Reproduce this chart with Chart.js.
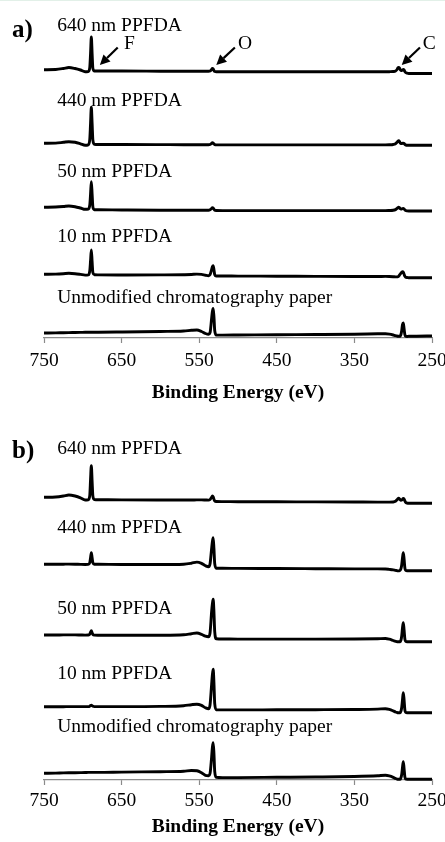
<!DOCTYPE html>
<html>
<head>
<meta charset="utf-8">
<script src="https://cdn.jsdelivr.net/npm/chart.js@4.4.1/dist/chart.umd.min.js"></script>
<style>
  html, body { margin: 0; padding: 0; background: #fff; }
  #wrap { position: relative; width: 445px; height: 842px; }
  #topline { position: absolute; left: 0; top: 0; width: 445px; height: 1px; background: #e2f0e8; }
  #chartA { position: absolute; left: 0; top: 0; }
  #chartB { position: absolute; left: 0; top: 410px; }
</style>
</head>
<body>
<div id="wrap">
  <canvas id="chartA" width="445" height="410"></canvas>
  <canvas id="chartB" width="445" height="432"></canvas>
  <div id="topline"></div>
</div>
<script>
// Binding energies (eV), shared by every spectrum
const energies = [750, 735, 725, 718, 710, 703, 697, 693, 691, 690, 689, 688, 687, 685, 680, 650, 600, 570, 560, 553, 547, 542, 538, 536, 534, 533, 532, 531, 530, 528, 520, 500, 450, 400, 350, 320, 310, 305, 300, 297, 295, 294, 293, 292, 291, 290, 289, 288, 287, 286, 285, 284, 282, 280, 270, 250];

const sampleNames = ['640 nm PPFDA', '440 nm PPFDA', '50 nm PPFDA', '10 nm PPFDA', 'Unmodified chromatography paper'];
const elementNames = ['F', 'O', 'C'];
const xTicks = [750, 650, 550, 450, 350, 250];

// panel a) intensities (a.u.) and vertical stacking offsets
const a640 = [3.8, 4, 5, 6, 5, 3.5, 1.8, 2, 6, 20, 36.5, 20, 5, 2.5, 2.5, 2.5, 2.3, 2.2, 2.2, 2.2, 2.2, 2.2, 2.2, 2.5, 4, 5, 4.5, 3, 2, 1.8, 1.8, 1.8, 1.8, 1.7, 1.7, 1.7, 1.7, 1.8, 2, 2.5, 4, 5.5, 6, 5.5, 4, 3, 3, 3.5, 4, 3.5, 2, 1, 0.3, 0, 0, 0];
const a440 = [2, 2.2, 3, 3.6, 3, 1.5, 0, 0.5, 6, 22, 38, 22, 5, 1, 0.8, 0.8, 0.7, 0.6, 0.6, 0.6, 0.6, 0.6, 0.6, 0.8, 2, 2.6, 2.2, 1.2, 0.6, 0.4, 0.4, 0.4, 0.4, 0.4, 0.4, 0.4, 0.4, 0.5, 0.8, 1.5, 3, 4, 4.6, 4, 2.5, 1.8, 1.8, 2, 2.2, 1.8, 1, 0.4, 0, 0, 0, 0];
const a50 = [3.7, 4, 4.5, 5, 4.3, 3, 1.7, 2, 6, 17, 29.3, 17, 4, 1.3, 1.2, 1, 0.8, 0.8, 0.8, 0.8, 0.8, 0.8, 0.8, 1.2, 2.5, 3.3, 3, 1.8, 0.8, 0.5, 0.4, 0.4, 0.4, 0.4, 0.4, 0.4, 0.4, 0.5, 0.7, 1.4, 2.6, 3.3, 3.7, 3.3, 2.4, 2, 2, 2.3, 2.5, 2, 1.2, 0.5, 0.1, 0, 0, 0];
const a10 = [3.4, 3.6, 4, 4.4, 4, 3.3, 2.6, 2.8, 7, 17, 27.7, 16, 5, 3, 2.8, 2.7, 2.8, 3, 3.2, 3.6, 3.3, 2.5, 2, 3, 8, 11, 12, 8, 3, 1.7, 1.7, 1.6, 1.5, 1.3, 1.2, 1.2, 1.3, 1.2, 1, 0.8, 0.8, 1, 1.5, 2.5, 3.5, 4.5, 5.5, 6, 5.5, 3.5, 1.5, 0.5, 0.2, 0, 0, 0];
const aPaper = [3.5, 3.6, 3.8, 3.9, 4, 4.1, 4.2, 4.2, 4.3, 4.3, 4.3, 4.3, 4.3, 4.3, 4.3, 4.5, 5, 5.5, 6.2, 6.5, 5, 3, 2.2, 4, 18, 25, 28, 20, 6, 1.5, 1.4, 1.5, 1.8, 2, 2.3, 2.7, 2.8, 2.4, 1.5, 0.8, 0.5, 0.3, 0.3, 0.3, 0.5, 2, 6, 12, 13.5, 8, 2, 0.3, 0, 0.2, 0.3, 0.5];
const offsetsA = [264.5, 192.7, 127, 60.3, 1.5];

// panel b) intensities (a.u.) and offsets
const b640 = [6, 6.3, 7.3, 8.3, 7.3, 5.5, 3.3, 3.5, 8, 24, 37.6, 22, 7, 3.8, 3.6, 3.4, 3.3, 3.3, 3.3, 3.4, 3.4, 3.3, 3.2, 3.8, 6, 7.3, 6.5, 4, 2.3, 1.8, 1.7, 1.6, 1.5, 1.4, 1.3, 1.2, 1.2, 1.2, 1.3, 2, 3.5, 4.5, 5, 4.6, 3.5, 3, 3.2, 4, 4.8, 4.3, 2.5, 1, 0.2, 0, 0, 0];
const b440 = [6.4, 6.4, 6.5, 6.6, 6.5, 6.3, 6.2, 6.3, 8, 13, 18, 13, 8, 6.5, 6.4, 6.2, 6.2, 6.5, 7.5, 8.6, 7.3, 5, 4, 7, 22, 29, 33, 22, 7, 2.5, 2.4, 2.3, 2.2, 2, 1.8, 1.8, 1.7, 1.3, 0.8, 0.3, 0, -0.2, -0.2, 0, 0.5, 2, 6, 13, 18, 12, 3, 0.5, 0, 0, 0, 0];
const b50 = [6.7, 6.7, 6.8, 6.8, 6.8, 6.7, 6.6, 6.7, 7.5, 9.5, 11, 9, 7.2, 6.6, 6.5, 6.4, 6.5, 7, 8, 8.7, 7.4, 5.5, 5, 9, 30, 38, 42.4, 30, 10, 3, 2.7, 2.6, 2.6, 2.6, 2.7, 3, 3.2, 2.5, 1.2, 0.4, 0, 0, 0, 0, 0, 1.5, 6, 14, 19, 12, 3, 0.5, 0, 0, 0, 0];
const b10 = [6, 6, 6, 6.1, 6.1, 6.1, 6.1, 6.1, 6.5, 7.2, 7.6, 7, 6.4, 6.1, 6.1, 6.1, 6.3, 7, 8, 8.5, 7.3, 5, 4, 8, 28, 38, 43.4, 30, 9, 3, 2.8, 2.8, 2.9, 3, 3.2, 3.6, 4, 3.3, 1.8, 0.7, 0.2, 0, 0, 0, 0, 1.5, 5.5, 13, 20, 13, 3, 0.5, 0, 0, 0, 0];
const bPaper = [6, 6.2, 6.4, 6.5, 6.6, 6.7, 6.8, 6.9, 6.9, 6.9, 6.9, 6.9, 6.9, 6.9, 6.9, 7.2, 7.6, 8, 8.8, 8.5, 6.5, 4, 3.6, 6, 22, 32, 36.6, 26, 8, 2, 1.7, 1.7, 2, 2.3, 2.8, 3.5, 4, 3.4, 2, 0.8, 0.2, 0, 0, 0, 0, 1.5, 5, 12, 17.6, 11, 2.5, 0.3, 0, 0, 0, 0];
const offsetsB = [276.7, 209.3, 138.3, 67.3, 0.7];

const serif = '"Liberation Serif", "Times New Roman", serif';

// Plugin pour les noms d'échantillons, les flèches et la lettre du panneau
const notesPlugin = {
    id: 'notes',
    afterDatasetsDraw(chart, args, opts) {
        const ctx = chart.ctx;
        const xs = chart.scales.x;
        const ys = chart.scales.y;
        ctx.save();
        ctx.fillStyle = '#000';
        ctx.strokeStyle = '#000';
        ctx.textAlign = 'left';
        ctx.textBaseline = 'alphabetic';

        ctx.font = 'bold 25px ' + serif;
        ctx.fillText(opts.panel, opts.panelPos[0], opts.panelPos[1]);

        ctx.font = '19.5px ' + serif;
        sampleNames.forEach((name, i) => {
            ctx.fillText(name, xs.getPixelForValue(opts.labelX), ys.getPixelForValue(opts.labelY[i]));
        });

        (opts.arrows || []).forEach((a, i) => {
            const x1 = xs.getPixelForValue(a.tail), y1 = ys.getPixelForValue(opts.arrowTail);
            const x2 = xs.getPixelForValue(a.head), y2 = ys.getPixelForValue(opts.arrowHead);
            const ang = Math.atan2(y2 - y1, x2 - x1);
            const hl = 10, hw = 5;
            ctx.lineWidth = 2.2;
            ctx.beginPath();
            ctx.moveTo(x1, y1);
            ctx.lineTo(x2 - hl * Math.cos(ang), y2 - hl * Math.sin(ang));
            ctx.stroke();
            ctx.beginPath();
            ctx.moveTo(x2, y2);
            ctx.lineTo(x2 - hl * Math.cos(ang) + hw * Math.sin(ang), y2 - hl * Math.sin(ang) - hw * Math.cos(ang));
            ctx.lineTo(x2 - hl * Math.cos(ang) - hw * Math.sin(ang), y2 - hl * Math.sin(ang) + hw * Math.cos(ang));
            ctx.closePath();
            ctx.fill();
            ctx.fillText(elementNames[i], xs.getPixelForValue(a.text), ys.getPixelForValue(opts.letterY));
        });
        ctx.restore();
    }
};

function buildSets(series, offsets) {
    return series.map((vals, i) => ({
        label: sampleNames[i],
        data: energies.map((e, k) => ({ x: e, y: vals[k] + offsets[i] })),
        borderColor: '#000',
        borderWidth: 2.9,
        pointRadius: 0,
        cubicInterpolationMode: 'monotone',
        clip: false
    }));
}

function makeChart(id, sets, yMax, axisHeight, tickPad, titlePad, notes) {
    return new Chart(document.getElementById(id), {
        type: 'line',
        data: { datasets: sets },
        options: {
            responsive: false,
            animation: false,
            events: [],
            layout: { padding: { left: 44, right: 13, top: 10, bottom: 0 } },
            scales: {
                x: {
                    type: 'linear',
                    min: 250,
                    max: 750,
                    reverse: true,
                    afterFit(s) { s.height = axisHeight; s.paddingLeft = 0; s.paddingRight = 0; },
                    afterBuildTicks(s) { s.ticks = xTicks.map(v => ({ value: v })); },
                    ticks: { color: '#000', font: { family: serif, size: 19.5 }, padding: tickPad, maxRotation: 0, autoSkip: false },
                    grid: { display: true, drawOnChartArea: false, drawTicks: true, tickLength: 5, tickColor: '#8a8a8a', tickWidth: 1.2 },
                    border: { display: true, color: '#8a8a8a', width: 1.2 },
                    title: {
                        display: true,
                        text: 'Binding Energy (eV)',
                        color: '#000',
                        font: { family: serif, size: 19.5, weight: 'bold' },
                        padding: { top: 0, bottom: titlePad }
                    }
                },
                y: { display: false, min: 0, max: yMax }
            },
            plugins: {
                legend: { display: false },
                tooltip: { enabled: false },
                notes: notes
            }
        },
        plugins: [notesPlugin]
    });
}

makeChart('chartA', buildSets([a640, a440, a50, a10, aPaper], offsetsA), 328, 72, 6, 5, {
    panel: 'a)',
    panelPos: [12, 37],
    labelX: 733,
    labelY: [307, 232, 161.5, 96.5, 35],
    arrowHead: 273,
    arrowTail: 290.5,
    letterY: 289,
    arrows: [
        { head: 678, tail: 655, text: 647 },
        { head: 528, tail: 504, text: 500 },
        { head: 289, tail: 265.5, text: 262 }
    ]
});

makeChart('chartB', buildSets([b640, b440, b50, b10, bPaper], offsetsB), 360, 62, 4, 3, {
    panel: 'b)',
    panelPos: [12, 48],
    labelX: 733,
    labelY: [326, 247.3, 166, 101, 48.5]
});
</script>
</body>
</html>
